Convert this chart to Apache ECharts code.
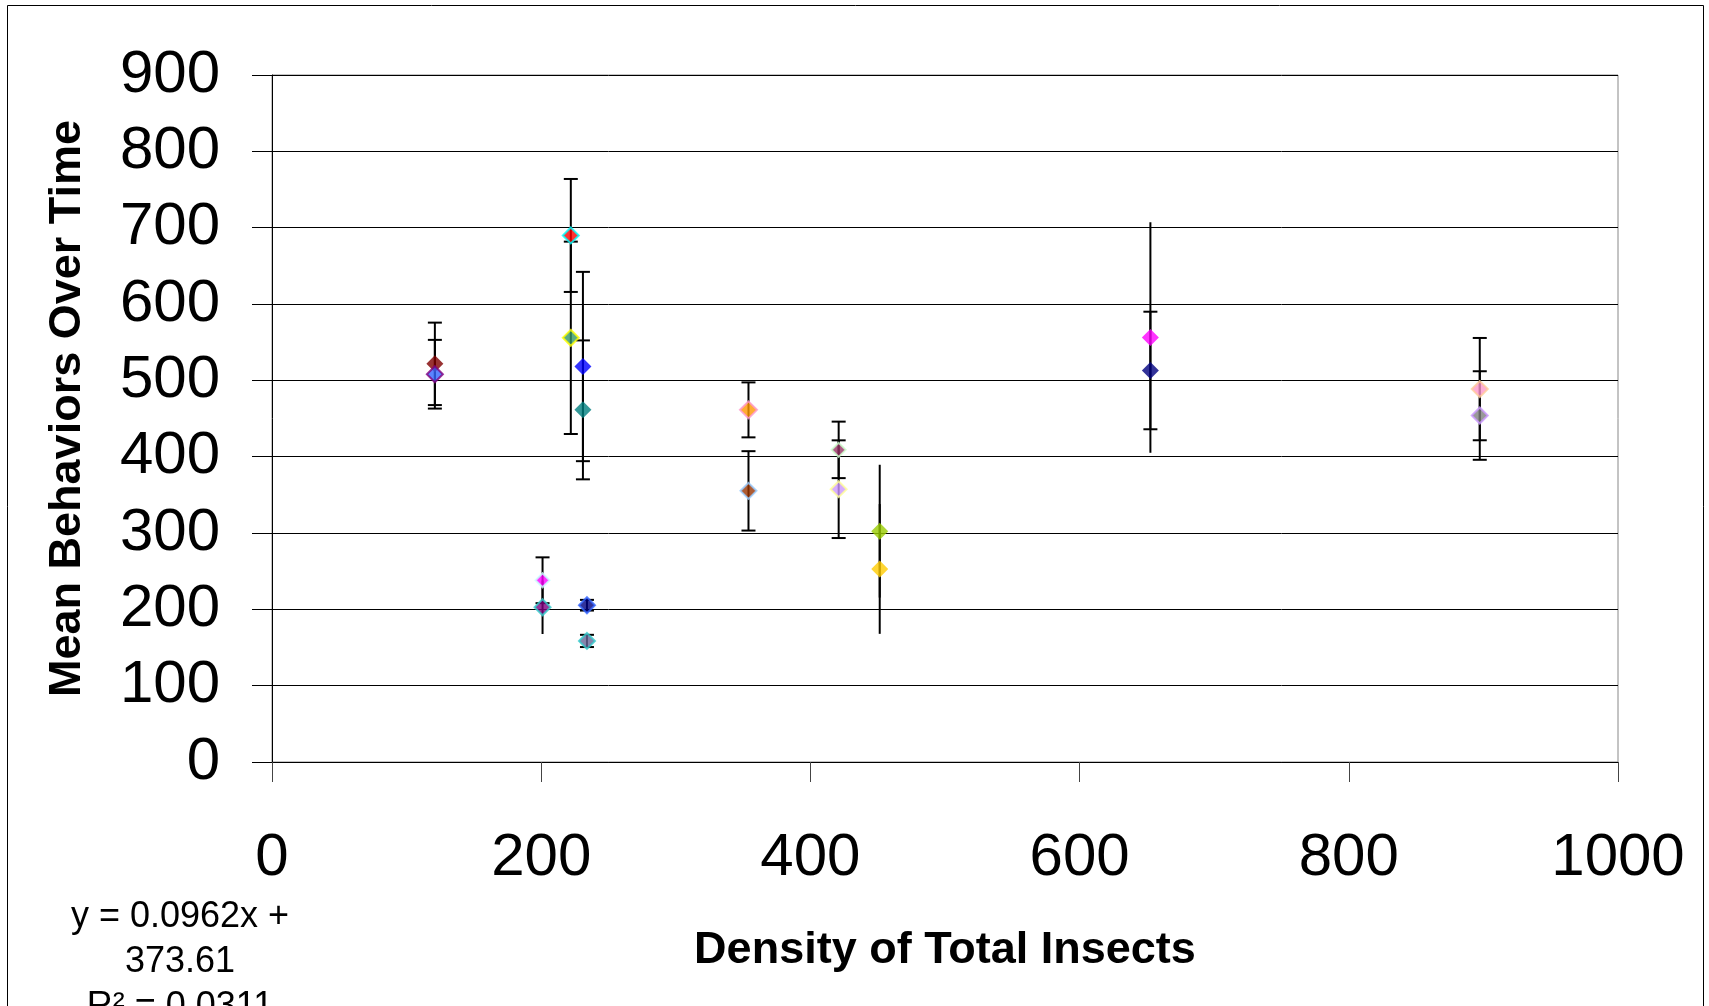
<!DOCTYPE html>
<html>
<head>
<meta charset="utf-8">
<script src="https://cdn.jsdelivr.net/npm/echarts@6/dist/echarts.min.js"></script>
<style>
html,body{margin:0;padding:0;background:#fff;}
#chart{width:1709px;height:1006px;}
</style>
</head>
<body>
<div id="chart"></div>
<script>
// Data
const xValues = [121, 121, 222, 222, 231, 231, 201, 201, 234, 234, 354, 354, 421, 421, 451.5, 451.5, 652.6, 652.6, 897.3, 897.3];
const yValues = [521.6, 508, 689.8, 555.7, 518.1, 461.3, 238.1, 202.7, 205.4, 158.6, 461.3, 355.2, 408.9, 357.4, 302.4, 252.9, 556.1, 512.9, 488.5, 453.9];
const errValues = [54, 45, 74, 126, 124, 91, 30, 35, 7, 8, 36, 52, 37, 64, 87, 85, 151, 77, 67, 58];
const hasCap = [1, 1, 1, 1, 1, 1, 1, 0, 1, 1, 1, 1, 1, 1, 0, 0, 0, 1, 1, 1];
const fillColors = ['#800000', '#3366FF', '#FF0000', '#339966', '#0000FF', '#008080', '#FF00FF', '#800080', '#000080', '#666699',
                    '#FF9900', '#993300', '#993366', '#CC99FF', '#99CC00', '#FFCC00', '#FF00FF', '#000080', '#FF99CC', '#808080'];
const borderColors = [null, '#800080', '#00FFFF', '#FFFF00', null, null, '#CCFFFF', '#33CCCC', '#3366FF', '#33CCCC',
                      '#FF99CC', '#99CCFF', '#CCFFCC', '#FFFF99', null, null, null, null, '#FFCC99', '#CC99FF'];
const markerSizes = [17, 16, 16, 16, 17, 17, 14, 16, 16, 16, 17, 16, 14, 16, 17, 17, 17, 17, 16, 16];
const xTicks = [0, 200, 400, 600, 800, 1000];
const yTicks = [0, 100, 200, 300, 400, 500, 600, 700, 800, 900];
const xTitle = 'Density of Total Insects';
const yTitle = 'Mean Behaviors Over Time';
const trendLines = ['y = 0.0962x +', '373.61', 'R\u00B2 = 0.0311'];

const FONT = '"Liberation Sans", Arial, sans-serif';

const scatterData = xValues.map((x, i) => ({
  value: [x, yValues[i]],
  symbolSize: markerSizes[i],
  itemStyle: {
    color: fillColors[i],
    borderColor: borderColors[i] || fillColors[i],
    borderWidth: borderColors[i] ? 2 : 0
  }
}));
const errData = xValues.map((x, i) => [x, yValues[i], errValues[i], hasCap[i]]);

const chart = echarts.init(document.getElementById('chart'), null, {renderer: 'canvas'});
chart.setOption({
  backgroundColor: '#fff',
  animation: false,
  grid: {left: 272, top: 75, right: 91, bottom: 244, show: true, borderColor: '#888', borderWidth: 1, backgroundColor: 'transparent'},
  graphic: [
    {type: 'rect', silent: true, z: 100, shape: {x: 7.5, y: 5.5, width: 1696, height: 1100}, style: {fill: 'none', stroke: '#000', lineWidth: 1}},
    {type: 'text', z: 100, x: 180, y: 917, style: {text: trendLines[0], font: '36px ' + FONT, fill: '#000', align: 'center', verticalAlign: 'middle'}},
    {type: 'text', z: 100, x: 180, y: 962, style: {text: trendLines[1], font: '36px ' + FONT, fill: '#000', align: 'center', verticalAlign: 'middle'}},
    {type: 'text', z: 100, x: 180, y: 1007, style: {text: trendLines[2], font: '36px ' + FONT, fill: '#000', align: 'center', verticalAlign: 'middle'}}
  ],
  xAxis: {
    type: 'value', min: xTicks[0], max: xTicks[xTicks.length - 1], interval: xTicks[1] - xTicks[0],
    name: xTitle, nameLocation: 'middle', nameGap: 166,
    nameTextStyle: {fontFamily: FONT, fontSize: 45, fontWeight: 'bold', color: '#000'},
    axisLine: {show: true, onZero: false, lineStyle: {color: '#000', width: 1}},
    axisTick: {show: true, inside: false, length: 20, lineStyle: {color: '#444', width: 1}},
    axisLabel: {fontFamily: FONT, fontSize: 60, color: '#000', margin: 66, formatter: v => String(v)},
    splitLine: {show: false}
  },
  yAxis: {
    type: 'value', min: yTicks[0], max: yTicks[yTicks.length - 1], interval: yTicks[1] - yTicks[0],
    name: yTitle, nameLocation: 'middle', nameGap: 182, nameRotate: 90,
    nameTextStyle: {fontFamily: FONT, fontSize: 45, fontWeight: 'bold', color: '#000', padding: [0, 0, 0, 20]},
    axisLine: {show: true, onZero: false, lineStyle: {color: '#000', width: 1}},
    axisTick: {show: true, inside: false, length: 20, lineStyle: {color: '#000', width: 1}},
    axisLabel: {fontFamily: FONT, fontSize: 60, color: '#000', margin: 52, formatter: v => String(v)},
    splitLine: {show: true, lineStyle: {color: '#000', width: 1}}
  },
  series: [
    {
      type: 'custom',
      z: 2,
      data: errData,
      renderItem: function (params, api) {
        const x = api.value(0), y = api.value(1), e = api.value(2), cap = api.value(3);
        const top = api.coord([x, y + e]);
        const bot = api.coord([x, y - e]);
        const children = [{type: 'line', shape: {x1: top[0], y1: top[1], x2: bot[0], y2: bot[1]}, style: {stroke: '#000', lineWidth: 2}}];
        if (cap) {
          children.push({type: 'line', shape: {x1: top[0] - 7, y1: top[1], x2: top[0] + 7, y2: top[1]}, style: {stroke: '#000', lineWidth: 2}});
          children.push({type: 'line', shape: {x1: bot[0] - 7, y1: bot[1], x2: bot[0] + 7, y2: bot[1]}, style: {stroke: '#000', lineWidth: 2}});
        }
        return {type: 'group', children: children};
      }
    },
    {
      type: 'scatter',
      z: 3,
      symbol: 'diamond',
      data: scatterData
    }
  ]
});
</script>
</body>
</html>
